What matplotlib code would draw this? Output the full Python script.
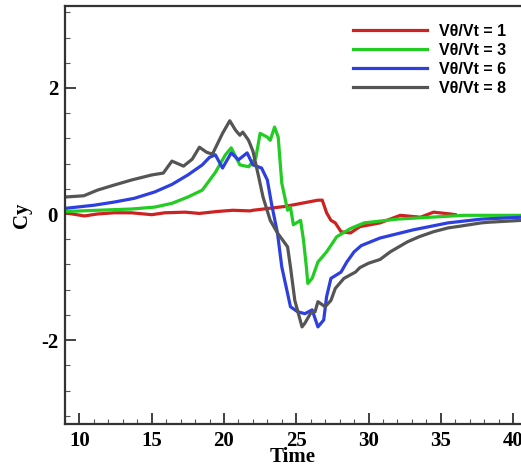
import matplotlib
matplotlib.use("Agg")
import matplotlib.pyplot as plt
from matplotlib.ticker import MultipleLocator

# --- Data ---
t1 = [9.0, 10.35, 11.2, 12.4, 13.6, 15.0, 15.9, 17.3, 18.3, 19.5, 20.6, 21.8, 22.0, 24.2,
      26.5, 26.8, 27.1, 27.4, 27.7, 28.1, 28.75, 29.4, 30.8, 32.2, 33.6, 34.5, 35.7, 36.0]
cy1 = [0.02, -0.03, 0.0, 0.02, 0.02, -0.01, 0.02, 0.03, 0.01, 0.04, 0.06, 0.05, 0.06, 0.12,
       0.22, 0.22, 0.02, -0.10, -0.14, -0.28, -0.30, -0.20, -0.14, -0.02, -0.05, 0.03, 0.0, -0.01]

t3 = [9.0, 11.25, 13.6, 15.2, 16.4, 17.5, 18.5, 19.4, 20.1, 20.5, 21.1, 21.7, 22.2, 22.5,
      23.0, 23.2, 23.5, 23.75, 24.0, 24.4, 24.6, 24.8, 25.3, 25.5, 25.7, 25.8, 26.1, 26.5,
      27.1, 27.8, 28.75, 29.7, 32.0, 34.3, 36.6, 40.6]
cy3 = [0.04, 0.06, 0.08, 0.11, 0.17, 0.27, 0.38, 0.66, 0.94, 1.05, 0.78, 0.75, 0.89, 1.28,
       1.22, 1.17, 1.38, 1.22, 0.49, 0.06, 0.11, -0.17, -0.10, -0.41, -0.84, -1.10, -1.02, -0.76,
       -0.60, -0.36, -0.23, -0.14, -0.08, -0.05, -0.02, -0.02]

t6 = [9.0, 11.0, 12.4, 13.8, 15.2, 16.4, 17.5, 18.5, 19.0, 19.4, 19.9, 20.5, 21.0, 21.6,
      22.0, 22.6, 23.0, 23.3, 23.7, 24.0, 24.4, 24.6, 25.1, 25.6, 26.1, 26.5, 26.9, 27.1,
      27.4, 28.1, 28.5, 29.0, 29.5, 30.8, 33.1, 35.5, 37.8, 40.6]
cy6 = [0.09, 0.14, 0.19, 0.25, 0.35, 0.47, 0.62, 0.78, 0.90, 0.94, 0.73, 0.97, 0.86, 0.97,
       0.78, 0.73, 0.54, 0.15, -0.30, -0.84, -1.26, -1.47, -1.55, -1.58, -1.52, -1.79, -1.68, -1.31,
       -1.02, -0.92, -0.76, -0.60, -0.50, -0.38, -0.25, -0.14, -0.08, -0.05]

t8 = [9.0, 10.3, 11.25, 12.4, 13.6, 15.0, 15.8, 16.4, 17.2, 17.8, 18.3, 18.8, 19.2, 19.9,
      20.4, 20.8, 21.1, 21.3, 21.7, 22.0, 22.4, 22.7, 23.2, 23.7, 24.4, 24.6, 24.9, 25.4,
      25.6, 26.0, 26.3, 26.5, 27.0, 27.4, 27.7, 28.3, 29.1, 29.4, 30.0, 30.8, 31.5, 32.7,
      33.5, 34.5, 35.5, 36.4, 37.8, 38.3, 40.6]
cy8 = [0.27, 0.29, 0.38, 0.46, 0.54, 0.62, 0.65, 0.84, 0.76, 0.87, 1.06, 0.98, 0.95, 1.28,
       1.48, 1.33, 1.25, 1.30, 1.17, 1.00, 0.59, 0.27, -0.10, -0.30, -0.52, -0.84, -1.37, -1.79,
       -1.73, -1.57, -1.55, -1.39, -1.47, -1.37, -1.18, -1.02, -0.92, -0.85, -0.78, -0.72, -0.60, -0.44,
       -0.36, -0.28, -0.22, -0.19, -0.14, -0.13, -0.10]

labels = ["V\u03b8/Vt = 1", "V\u03b8/Vt = 3", "V\u03b8/Vt = 6", "V\u03b8/Vt = 8"]
colors = ["#cc2222", "#22cc22", "#2e3fe0", "#555555"]

plt.rcParams['axes.unicode_minus'] = False
serif = {'family': 'Liberation Serif', 'weight': 'bold'}

fig = plt.figure(figsize=(5.21, 4.67), dpi=100)
ax = fig.add_axes([65 / 521, 43 / 467, 1 - 65 / 521, 418 / 467])

for t, cy, lab, col in zip([t1, t3, t6, t8], [cy1, cy3, cy6, cy8], labels, colors):
    ax.plot(t, cy, color=col, lw=2.3, label=lab)

ax.set_xlim(9, 40.55)
ax.set_ylim(-3.33, 3.3)
ax.xaxis.set_major_locator(MultipleLocator(5))
ax.xaxis.set_minor_locator(MultipleLocator(1))
ax.yaxis.set_major_locator(MultipleLocator(2))
ax.yaxis.set_minor_locator(MultipleLocator(0.4))
ax.tick_params(which='major', direction='in', length=8, width=1.3, color='#333333', pad=5)
ax.tick_params(which='minor', direction='in', length=3.5, width=0.8, color='#555555')
for s in ['left', 'bottom', 'top']:
    ax.spines[s].set_linewidth(1.6)
    ax.spines[s].set_color('#333333')
ax.spines['right'].set_visible(False)

for lbl in ax.get_xticklabels() + ax.get_yticklabels():
    lbl.set_fontfamily('Liberation Serif')
    lbl.set_fontweight('bold')
    lbl.set_fontsize(15)

ax.set_xlabel("Time", fontsize=15, labelpad=-3, **serif)
ax.set_ylabel("Cy", fontsize=15, labelpad=6, **serif)

ax.legend(loc='upper left', bbox_to_anchor=(0.632, 0.958), frameon=False,
          borderpad=0, borderaxespad=0, handlelength=4.6, handletextpad=0.75,
          labelspacing=0.25, prop={'family': 'Liberation Sans', 'weight': 'bold', 'size': 11.5})

fig.savefig("out.png", dpi=100)
